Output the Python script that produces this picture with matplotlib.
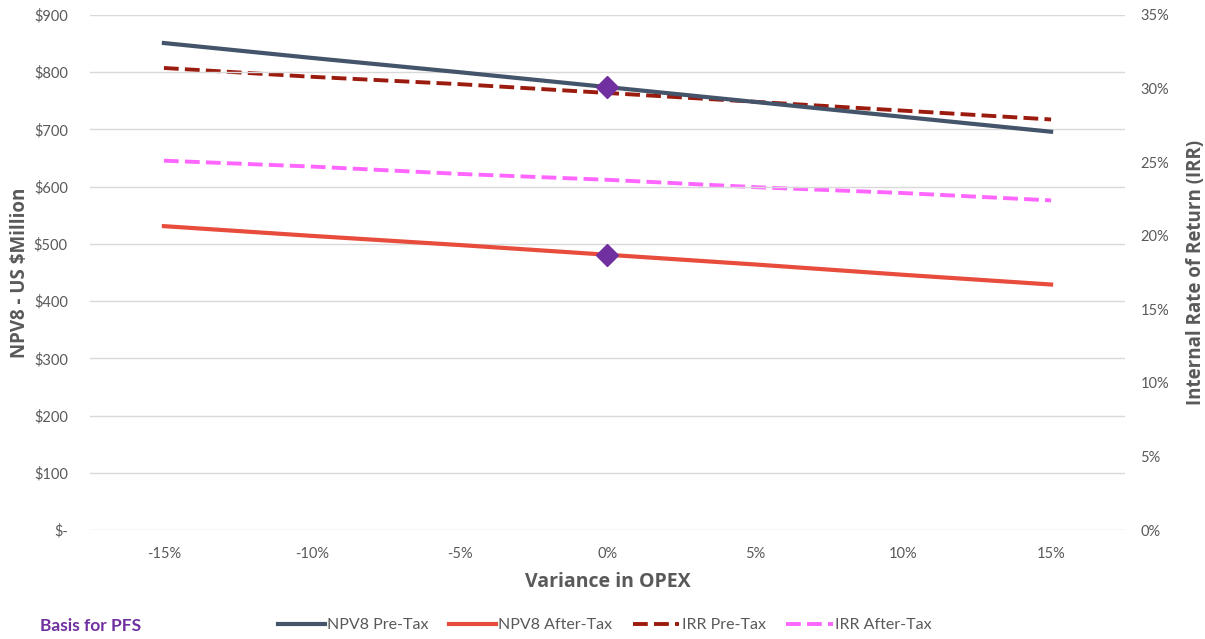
import matplotlib.pyplot as plt
from matplotlib.ticker import FuncFormatter

variance = ['-15%', '-10%', '-5%', '0%', '5%', '10%', '15%']
npv_pre_tax = [851, 825, 800, 774, 748, 722, 696]
npv_after_tax = [531, 514, 498, 481, 464, 446, 429]
irr_pre_tax = [31.4, 30.8, 30.3, 29.7, 29.1, 28.5, 27.9]
irr_after_tax = [25.1, 24.7, 24.2, 23.8, 23.3, 22.9, 22.4]
basis_idx = 3

grey = '#595959'
fig = plt.figure(figsize=(12.05, 6.39), dpi=100)
ax = fig.add_axes([90 / 1205, 1 - 530 / 639, 1035 / 1205, 515 / 639])
ax2 = ax.twinx()

x = list(range(len(variance)))
l1, = ax.plot(x, npv_pre_tax, color='#44546A', lw=3, label='NPV8 Pre-Tax', zorder=3)
l2, = ax.plot(x, npv_after_tax, color='#E84C3D', lw=3, label='NPV8 After-Tax', zorder=3)
l3, = ax2.plot(x, irr_pre_tax, color='#9B1B0F', lw=2.8, ls=(0, (3.8, 1.6)), label='IRR Pre-Tax')
l4, = ax2.plot(x, irr_after_tax, color='#FF66FF', lw=2.8, ls=(0, (3.8, 1.6)), label='IRR After-Tax')
ax.plot([x[basis_idx]] * 2, [npv_pre_tax[basis_idx], npv_after_tax[basis_idx]], ls='none',
        marker='D', ms=11, color='#7030A0', zorder=5)

ax.set_xlim(-0.5, len(variance) - 0.5)
ax.set_ylim(0, 900)
ax.set_yticks(range(0, 901, 100))
ax.yaxis.set_major_formatter(FuncFormatter(lambda v, p: '$-' if v == 0 else f'${v:.0f}'))
ax2.set_ylim(0, 35)
ax2.set_yticks(range(0, 36, 5))
ax2.yaxis.set_major_formatter(FuncFormatter(lambda v, p: f'{v:.0f}%'))
ax.set_xticks(x)
ax.set_xticklabels(variance)
ax.grid(axis='y', color='#D9D9D9', lw=1)
ax.set_axisbelow(True)
ax.set_zorder(ax2.get_zorder() + 1)
ax.patch.set_visible(False)

for a in (ax, ax2):
    for s in a.spines.values():
        s.set_visible(False)
    a.tick_params(length=0, labelsize=10.5, labelcolor=grey)
    for lab in a.get_xticklabels() + a.get_yticklabels():
        lab.set_family('Lato')
ax.tick_params(axis='y', pad=16)
ax.tick_params(axis='x', pad=12)
ax2.tick_params(axis='y', pad=11)

ax.set_xlabel('Variance in OPEX', fontsize=14, fontweight='bold', color=grey,
              family='Open Sans', labelpad=8)
ax.set_ylabel('NPV8 - US $Million', fontsize=13.5, fontweight='bold', color=grey,
              family='Open Sans')
ax2.set_ylabel('Internal Rate of Return (IRR)', fontsize=13.5, fontweight='bold', color=grey,
               family='Open Sans')
ax.yaxis.set_label_coords(-60 / 1035, 0.5)
ax2.yaxis.set_label_coords(1 + 61 / 1035, 0.5)

fig.text(40 / 1205, 1 - 626 / 639, 'Basis for PFS', color='#7030A0', fontsize=12.5,
         fontweight='bold', family='Lato', va='center')
fig.legend(handles=[l1, l2, l3, l4], loc='center', bbox_to_anchor=(605 / 1205, 1 - 625 / 639),
           ncol=4, frameon=False, handlelength=2.9, handletextpad=0.15, columnspacing=1.3,
           prop={'family': 'Lato', 'size': 11.5}, labelcolor=grey)

fig.savefig('out.png', dpi=100)
